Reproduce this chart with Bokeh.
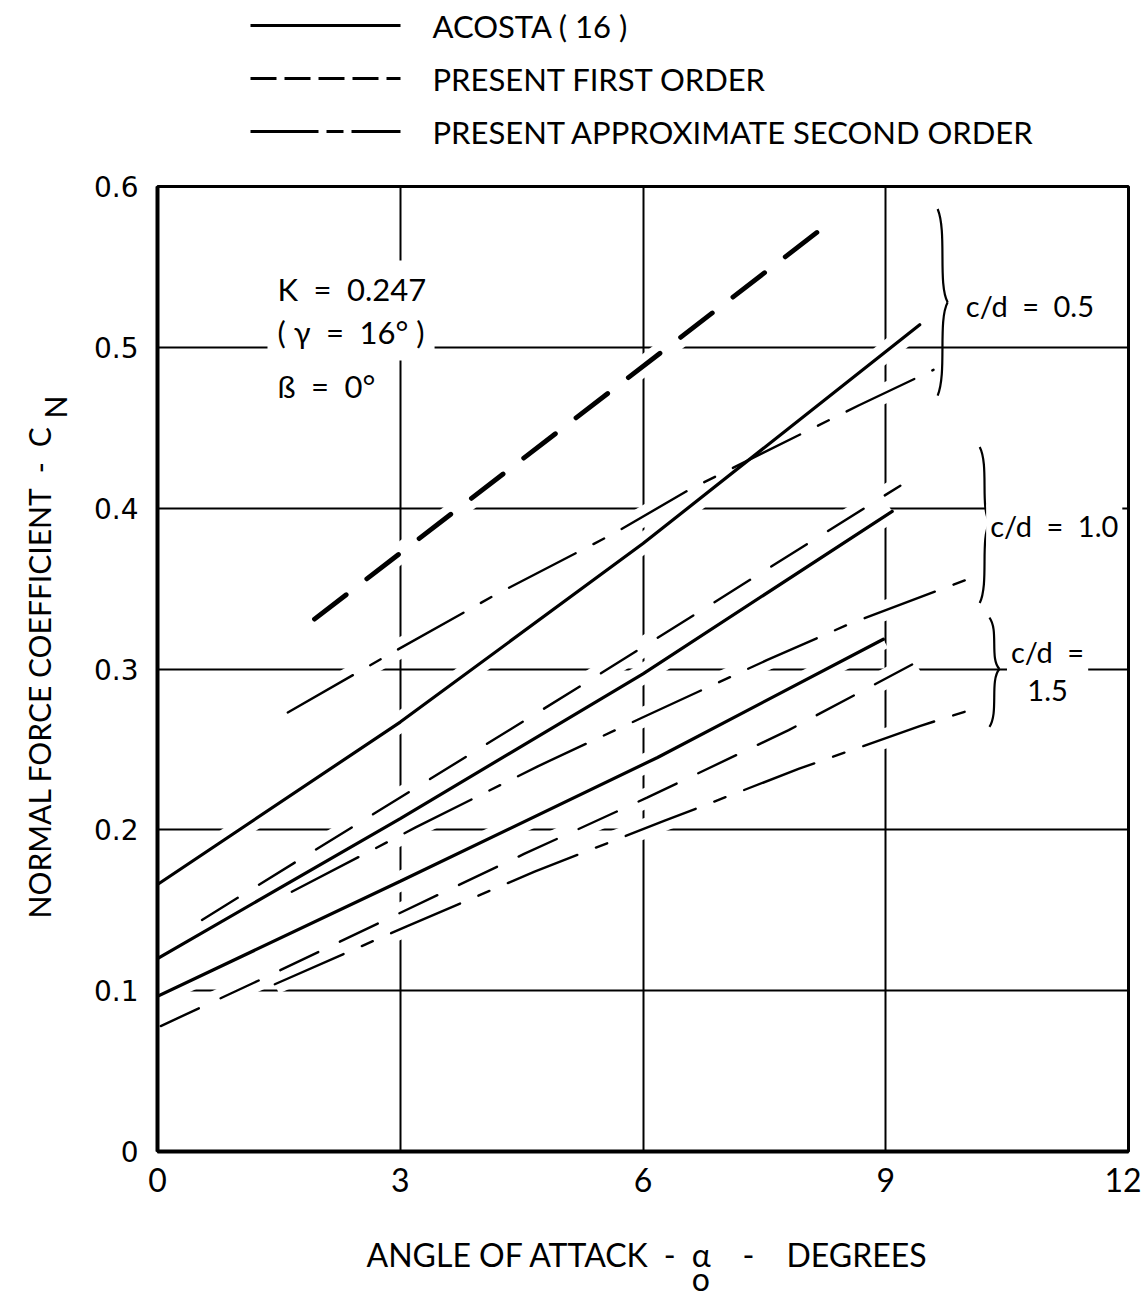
import math
from bokeh.plotting import figure
from bokeh.layouts import column
from bokeh.models import Label, FixedTicker, Title
from bokeh.core.properties import value
from bokeh.embed import file_html
from bokeh.resources import INLINE

FONT = "Lato"
TICK_FONT = "DejaVu Sans"
EN = "\u2002"

# ---------------- data ----------------
# Acosta (16) - solid
acosta_05_x = [0.0, 3.0, 6.0, 9.42]
acosta_05_y = [0.166, 0.267, 0.378, 0.514]
acosta_10_x = [0.0, 3.0, 6.0, 9.08]
acosta_10_y = [0.120, 0.207, 0.297, 0.398]
acosta_15_x = [0.0, 3.0, 6.18, 8.97]
acosta_15_y = [0.0965, 0.168, 0.245, 0.3185]

# present first order - dashed
first_05_x = [1.94, 8.19]
first_05_y = [0.331, 0.573]
first_10_x = [0.55, 5.28, 9.18]
first_10_y = [0.144, 0.291, 0.414]
first_15_x = [0.04, 1.28, 2.9, 4.53, 6.05, 7.8, 9.37]
first_15_y = [0.078, 0.107, 0.146, 0.185, 0.220, 0.262, 0.304]

# present approximate second order - long dash / short dash
second_05_x = [1.61, 2.86, 4.17, 5.63, 6.59, 8.67, 9.59]
second_05_y = [0.273, 0.309, 0.346, 0.384, 0.412, 0.464, 0.486]
second_10_x = [1.66, 3.19, 4.70, 6.0, 7.53, 8.55, 10.13]
second_10_y = [0.1615, 0.2015, 0.2395, 0.270, 0.3055, 0.328, 0.358]
second_15_x = [1.45, 3.08, 4.66, 6.26, 7.93, 9.42, 10.2]
second_15_y = [0.104, 0.140, 0.174, 0.2055, 0.238, 0.2645, 0.277]

x_ticks = [0, 3, 6, 9, 12]
y_ticks = [0, 0.1, 0.2, 0.3, 0.4, 0.5, 0.6]
y_tick_labels = ["0", "0.1", "0.2", "0.3", "0.4", "0.5", "0.6"]

legend_labels = ["ACOSTA ( 16 )", "PRESENT FIRST ORDER", "PRESENT APPROXIMATE SECOND ORDER"]
legend_dashes = ["solid", "26 8", "68 8 17 8"]

# c/d group labels and their braces
cd_texts = ["c/d" + EN + "=" + EN + "0.5", "c/d" + EN + "=" + EN + "1.0", "c/d" + EN + "=", "1.5"]
brace_x = [9.70, 10.22, 10.34]
brace_top = [0.586, 0.438, 0.332]
brace_mid = [0.528, 0.391, 0.300]
brace_bot = [0.470, 0.341, 0.264]

# axis titles; the second line carries the subscript
x_title = ("ANGLE OF ATTACK" + EN + "-" + EN + "\u03b1" + EN * 2 + "-" + EN * 2 + "DEGREES"
           + "\n" + EN * 20 + "\u2006" + "o")
y_title = ("NORMAL FORCE COEFFICIENT" + EN + "-" + EN + "C"
           + "\n" + EN * 33 + "\u2006" + "N")

# ---------------- legend strip (top) ----------------
LEG_H = 166
leg_fig = figure(width=1141, height=LEG_H, x_range=(0, 12), y_range=(0, LEG_H),
                 output_backend="svg", toolbar_location=None,
                 x_axis_location=None, y_axis_location=None,
                 min_border_left=157, min_border_right=13,
                 min_border_top=0, min_border_bottom=0,
                 background_fill_color="white", border_fill_color="white")
leg_fig.outline_line_color = None
leg_fig.grid.visible = False

px_per_deg = 971 / 12.0
leg_x0 = (250 - 157) / px_per_deg
leg_x1 = (400 - 157) / px_per_deg
leg_tx = (432 - 157) / px_per_deg
leg_rows = [LEG_H - 25, LEG_H - 78, LEG_H - 131]
for ry, dash in zip(leg_rows, legend_dashes):
    leg_fig.line([leg_x0, leg_x1], [ry, ry], line_color="black", line_width=3, line_dash=dash)
leg_fig.text(x=[leg_tx] * 3, y=leg_rows, text=legend_labels,
             text_font=value(FONT), text_font_size=value("31px"),
             text_baseline="middle", text_align="left", text_color="black")

# ---------------- main chart ----------------
p = figure(frame_width=971, frame_height=965,
           x_range=(0, 12), y_range=(0, 0.6),
           output_backend="svg", toolbar_location=None,
           min_border_left=157, min_border_right=13,
           min_border_top=20, min_border_bottom=146,
           background_fill_color="white", border_fill_color="white")

p.outline_line_color = "black"
p.outline_line_width = 3

p.xaxis.ticker = FixedTicker(ticks=x_ticks)
p.yaxis.ticker = FixedTicker(ticks=y_ticks)
p.yaxis.major_label_overrides = {t: s for t, s in zip(y_ticks, y_tick_labels)}

for ax in (p.xaxis, p.yaxis):
    ax.axis_line_width = 4
    ax.axis_line_color = "black"
    ax.major_tick_out = 0
    ax.major_tick_in = 0
    ax.minor_tick_out = 0
    ax.minor_tick_in = 0
    ax.major_label_text_color = "black"

p.xaxis.major_label_text_font = FONT
p.xaxis.major_label_text_font_size = "32px"
p.yaxis.major_label_text_font = TICK_FONT
p.yaxis.major_label_text_font_size = "28px"
p.xaxis.major_label_standoff = 16
p.yaxis.major_label_standoff = 19

def side_title(text, where, size, standoff, align="left", offset=0, line_height=1.2):
    t = Title(text=text, align=align, offset=offset, standoff=standoff,
              text_font=FONT, text_font_size=size, text_font_style="normal",
              text_color="black", text_line_height=line_height)
    p.add_layout(t, where)

side_title(x_title, "below", "32px", 78, offset=209, line_height=0.62)
side_title(y_title, "left", "30px", 34, offset=233, line_height=0.45)

p.xgrid.grid_line_color = "black"
p.xgrid.grid_line_width = 2
p.ygrid.grid_line_color = "black"
p.ygrid.grid_line_width = 2

curves = [
    (acosta_05_x, acosta_05_y, "solid", 3.2),
    (acosta_10_x, acosta_10_y, "solid", 3.2),
    (acosta_15_x, acosta_15_y, "solid", 3.2),
    (first_05_x, first_05_y, "40 26", 4.8),
    (first_10_x, first_10_y, "42 25", 2.4),
    (first_15_x, first_15_y, "42 24", 2.4),
    (second_05_x, second_05_y, "75 20 12 20", 2.4),
    (second_10_x, second_10_y, "75 20 12 20", 2.4),
    (second_15_x, second_15_y, "75 20 12 20", 2.4),
]

# white halos that interrupt the grid where curves cross it
for cx, cy, dash, w in curves:
    p.line(cx, cy, line_color="white", line_width=20, line_cap="butt")

for cx, cy, dash, w in curves:
    p.line(cx, cy, line_color="black", line_width=w, line_dash=dash, line_cap="round")

# braces (two cubic segments each)
bx0, by0, bx1, by1, bcx0, bcy0, bcx1, bcy1 = [], [], [], [], [], [], [], []
bw = 0.13
for x, t, m, b in zip(brace_x, brace_top, brace_mid, brace_bot):
    h1 = t - m
    h2 = m - b
    bx0.append(x - bw * 0.45); by0.append(t)
    bx1.append(x + bw * 0.5); by1.append(m)
    bcx0.append(x + bw * 0.45); bcy0.append(t - 0.25 * h1)
    bcx1.append(x - bw * 0.45); bcy1.append(m + 0.2 * h1)
    bx0.append(x + bw * 0.5); by0.append(m)
    bx1.append(x - bw * 0.45); by1.append(b)
    bcx0.append(x - bw * 0.45); bcy0.append(m - 0.2 * h2)
    bcx1.append(x + bw * 0.45); bcy1.append(b + 0.25 * h2)
p.bezier(x0=bx0, y0=by0, x1=bx1, y1=by1, cx0=bcx0, cy0=bcy0, cx1=bcx1, cy1=bcy1,
         line_color="black", line_width=2.2)

PX_X = 971 / 12.0
PX_Y = 965 / 0.6

def add_label(x, y, text, size="31px", align="left", baseline="alphabetic", pad=6):
    dx = -pad / PX_X if align == "left" else 0.0
    dy = pad / PX_Y if baseline == "alphabetic" else 0.0
    lab = Label(x=x + dx, y=y + dy, text=text, text_font=FONT, text_font_size=size,
                text_color="black", text_align=align, text_baseline=baseline,
                background_fill_color="white", padding=pad)
    p.add_layout(lab)

add_label(1.483, 0.5298, "K" + EN + "=" + EN + "0.247", pad=10)
add_label(1.483, 0.5036, "( \u03b3" + EN + "=" + EN + "16\u00b0 )", pad=10)
add_label(1.483, 0.4700, "\u00df" + EN + "=" + EN + "0\u00b0", pad=10)

add_label(9.99, 0.5258, cd_texts[0], size="29px", baseline="middle", pad=4)
add_label(10.29, 0.389, cd_texts[1], size="29px", baseline="middle", pad=4)
add_label(11.0, 0.311, cd_texts[2], size="29px", align="center", baseline="middle", pad=4)
add_label(11.0, 0.2867, cd_texts[3], size="29px", align="center", baseline="middle", pad=4)

layout = column(leg_fig, p, spacing=0)
open("out.html", "w").write(file_html(layout, INLINE))
